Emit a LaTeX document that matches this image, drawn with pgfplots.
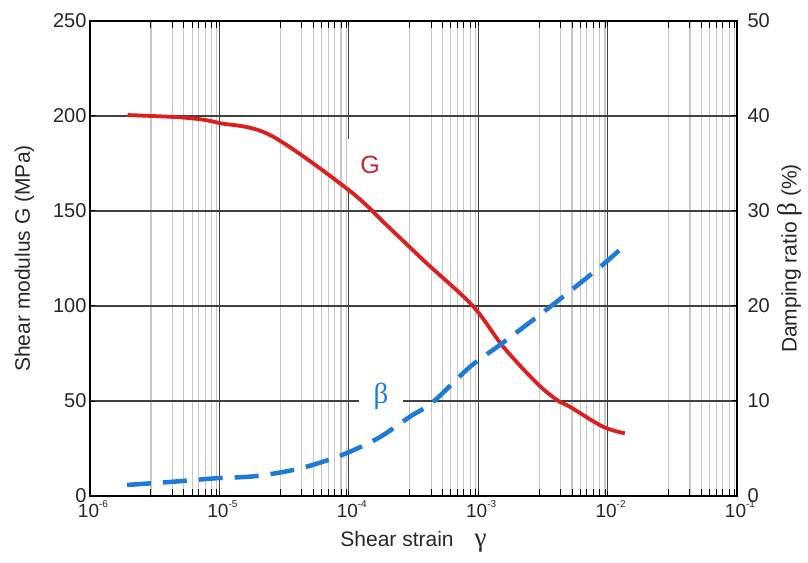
\documentclass[border=0pt]{standalone}
\usepackage{fontspec}
\setmainfont{Liberation Sans}
\newfontfamily\symf{Liberation Serif}
\usepackage{pgfplots}
\pgfplotsset{compat=1.18}
\definecolor{gred}{RGB}{220,30,30}
\definecolor{gtext}{RGB}{195,40,50}
\definecolor{bblue}{RGB}{30,122,215}
\newcommand{\tl}[1]{10\raisebox{0.55em}{\fontsize{10}{10}\selectfont #1}}
\begin{document}
\begin{tikzpicture}[x=1pt,y=1pt]
\useasboundingbox (-90,-66) rectangle (718,496);
\begin{axis}[
  at={(0,0)}, anchor=south west, scale only axis,
  width=647pt, height=475pt,
  xmode=log, xmin=1e-6, xmax=1e-1, ymin=0, ymax=250,
  ytick={0,50,...,250}, ytick pos=left,
  xtick={1e-6,1e-5,1e-4,1e-3,1e-2,1e-1},
  xticklabels={\tl{-6},\tl{-5},\tl{-4},\tl{-3},\tl{-2},\tl{-1}},
  minor xtick={2.96e-6,4.33e-6,5.31e-6,6.15e-6,6.92e-6,7.76e-6,8.71e-6,9.55e-6,
               2.96e-5,4.33e-5,5.31e-5,6.15e-5,6.92e-5,7.76e-5,8.71e-5,9.55e-5,
               2.96e-4,4.33e-4,5.31e-4,6.15e-4,6.92e-4,7.76e-4,8.71e-4,9.55e-4,
               2.96e-3,4.33e-3,5.31e-3,6.15e-3,6.92e-3,7.76e-3,8.71e-3,9.55e-3,
               2.96e-2,4.33e-2,5.31e-2,6.15e-2,6.92e-2,7.76e-2,8.71e-2,9.55e-2},
  xmajorgrids, xminorgrids, ymajorgrids,
  major grid style={black!75, line width=1.2pt},
  minor grid style={black!22, line width=1.1pt},
  tick align=inside,
  major tick length=5pt, minor tick length=7pt,
  every tick/.style={black, line width=1pt},
  axis line style={black, line width=1.5pt},
  /pgf/number format/assume math mode=true,
  yticklabel style={font=\fontsize{20}{22}\selectfont, text=black!85},
  xticklabel style={font=\fontsize{19}{22}\selectfont, text=black!85, yshift=-1pt, xshift=3pt},
  xlabel={Shear strain\quad{\symf\fontsize{27}{27}\selectfont γ}},
  ylabel={Shear modulus G (MPa)},
  label style={font=\fontsize{21}{24}\selectfont, text=black!85},
  xlabel style={yshift=-6pt},
  ylabel style={yshift=12pt},
]
\node[fill=white, inner sep=0pt, minimum width=44pt, minimum height=50pt,
      text=gtext, font=\fontsize{25}{30}\selectfont] at (axis cs:1.46e-4,174.5) {G};
\node[fill=white, inner sep=0pt, minimum width=44pt, minimum height=38pt,
      text=bblue, font=\symf\fontsize{29}{30}\selectfont] at (axis cs:1.775e-4,52.6) {β};
\addplot[gred, line width=3.8pt, smooth, tension=0.55] coordinates {
 (1.95e-6,200.5) (4.4e-6,199.5) (7.1e-6,198.3) (1e-5,196.3) (2.46e-5,190)
 (1e-4,161) (2e-4,142) (4e-4,122.5) (9.1e-4,100)
 (1.56e-3,78.6) (2.84e-3,59.4) (4.07e-3,50.5) (5.1e-3,47) (9.2e-3,36.5) (1.36e-2,33)
};
\end{axis}
\begin{axis}[
  at={(0,0)}, anchor=south west, scale only axis,
  width=647pt, height=475pt,
  xmode=log, xmin=1e-6, xmax=1e-1, ymin=0, ymax=50,
  axis x line=none, axis y line*=right,
  ytick={0,10,...,50},
  tick align=inside, major tick length=5pt,
  every tick/.style={black, line width=1pt},
  axis line style={black, line width=1.5pt},
  /pgf/number format/assume math mode=true,
  ticklabel style={font=\fontsize{20}{22}\selectfont, text=black!85},
  yticklabel style={xshift=7pt},
  ylabel={Damping ratio {\symf\fontsize{27}{27}\selectfont β} (\%)},
  label style={font=\fontsize{21}{24}\selectfont, text=black!85},
  ylabel style={yshift=-1pt},
]
\addplot[bblue, line width=4.5pt, dash pattern=on 24pt off 12pt, smooth, tension=0.5] coordinates {
 (1.93e-6,1.16) (4.37e-6,1.5) (9.25e-6,1.86) (1.94e-5,2.1) (4.2e-5,2.9)
 (8.8e-5,4.3) (1.69e-4,6.1) (2.97e-4,8.35) (4.48e-4,9.9) (8.65e-4,13.6)
 (1.47e-3,15.9) (3.59e-3,19.9) (8.73e-3,24.1) (1.36e-2,26.4)
};
\end{axis}
\end{tikzpicture}
\end{document}
